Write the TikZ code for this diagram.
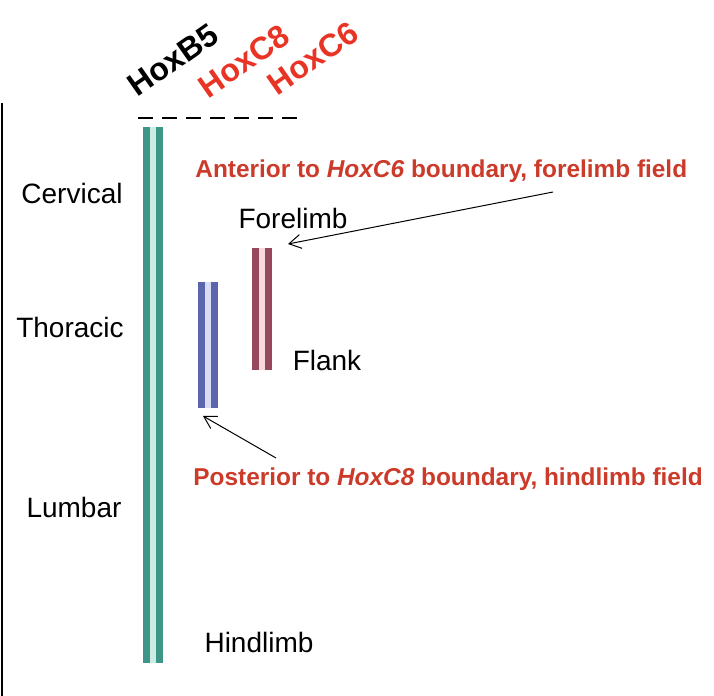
\documentclass[tikz,border=0pt]{standalone}
\usepackage{fontspec}
\setmainfont{Liberation Sans}
\usetikzlibrary{arrows.meta}

\definecolor{hoxred}{RGB}{232,52,36}
\definecolor{notered}{RGB}{204,58,42}
\definecolor{tealbar}{RGB}{62,150,136}
\definecolor{tealpale}{RGB}{205,236,228}
\definecolor{maroonbar}{RGB}{150,72,92}
\definecolor{maroonpale}{RGB}{246,216,222}
\definecolor{bluebar}{RGB}{92,102,172}
\definecolor{bluepale}{RGB}{216,220,246}

\begin{document}
\begin{tikzpicture}[
  x=0.5pt, y=-0.5pt,
  region/.style={font=\fontsize{14}{16}\selectfont, anchor=base, inner sep=0pt},
  hoxgene/.style={font=\fontsize{16}{18}\selectfont\bfseries, rotate=35, inner sep=0pt},
  note/.style={font=\fontsize{12.2}{14}\selectfont\bfseries, text=notered, anchor=base west, inner sep=0pt},
  pointer/.style={-{Straight Barb[length=6pt, width=7pt]}, line width=0.5pt}
]
  \useasboundingbox (0,0) rectangle (714,696);

  % body axis on the left edge
  \draw[line width=1pt] (2,103) -- (2,696);

  % gene names above the boundary line
  \node[hoxgene] (hoxb5) at (173,60) {HoxB5};
  \node[hoxgene, text=hoxred] (hoxc8) at (244,61) {HoxC8};
  \node[hoxgene, text=hoxred] (hoxc6) at (313,58) {HoxC6};
  \draw[line width=1.2pt, dash pattern=on 7.5pt off 4.5pt] (138,118) -- (300,118);

  % expression domains: pale core with two darker edges
  \foreach \x/\ya/\yb/\c in {153/127/663/teal, 262/248/370/maroon, 208/282/408/blue} {
    \fill[\c pale] (\x-10,\ya) rectangle (\x+10,\yb);
    \draw[\c bar, line width=3.3pt] (\x-6.5,\ya) -- (\x-6.5,\yb);
    \draw[\c bar, line width=3.3pt] (\x+6.5,\ya) -- (\x+6.5,\yb);
  }

  \node[region] (cervical) at (72,203) {Cervical};
  \node[region] (thoracic) at (70,337) {Thoracic};
  \node[region] (lumbar) at (74,517) {Lumbar};
  \node[region] (forelimb) at (293,228) {Forelimb};
  \node[region] (flank) at (327,370) {Flank};
  \node[region] (hindlimb) at (259,652) {Hindlimb};

  \node[note] (anterior) at (195,177) {Anterior to \textit{HoxC6} boundary, forelimb field};
  \node[note] (posterior) at (193,485) {Posterior to \textit{HoxC8} boundary, hindlimb field};

  % pointers to the top of the forelimb bar and the bottom of the hindlimb bar
  \coordinate (foretail) at (553,192);
  \coordinate (forehead) at (288,244);
  \coordinate (hindtail) at (276,458);
  \coordinate (hindhead) at (203,416);
  \draw[pointer] (foretail) -- (forehead);
  \draw[pointer] (hindtail) -- (hindhead);
\end{tikzpicture}
\end{document}
